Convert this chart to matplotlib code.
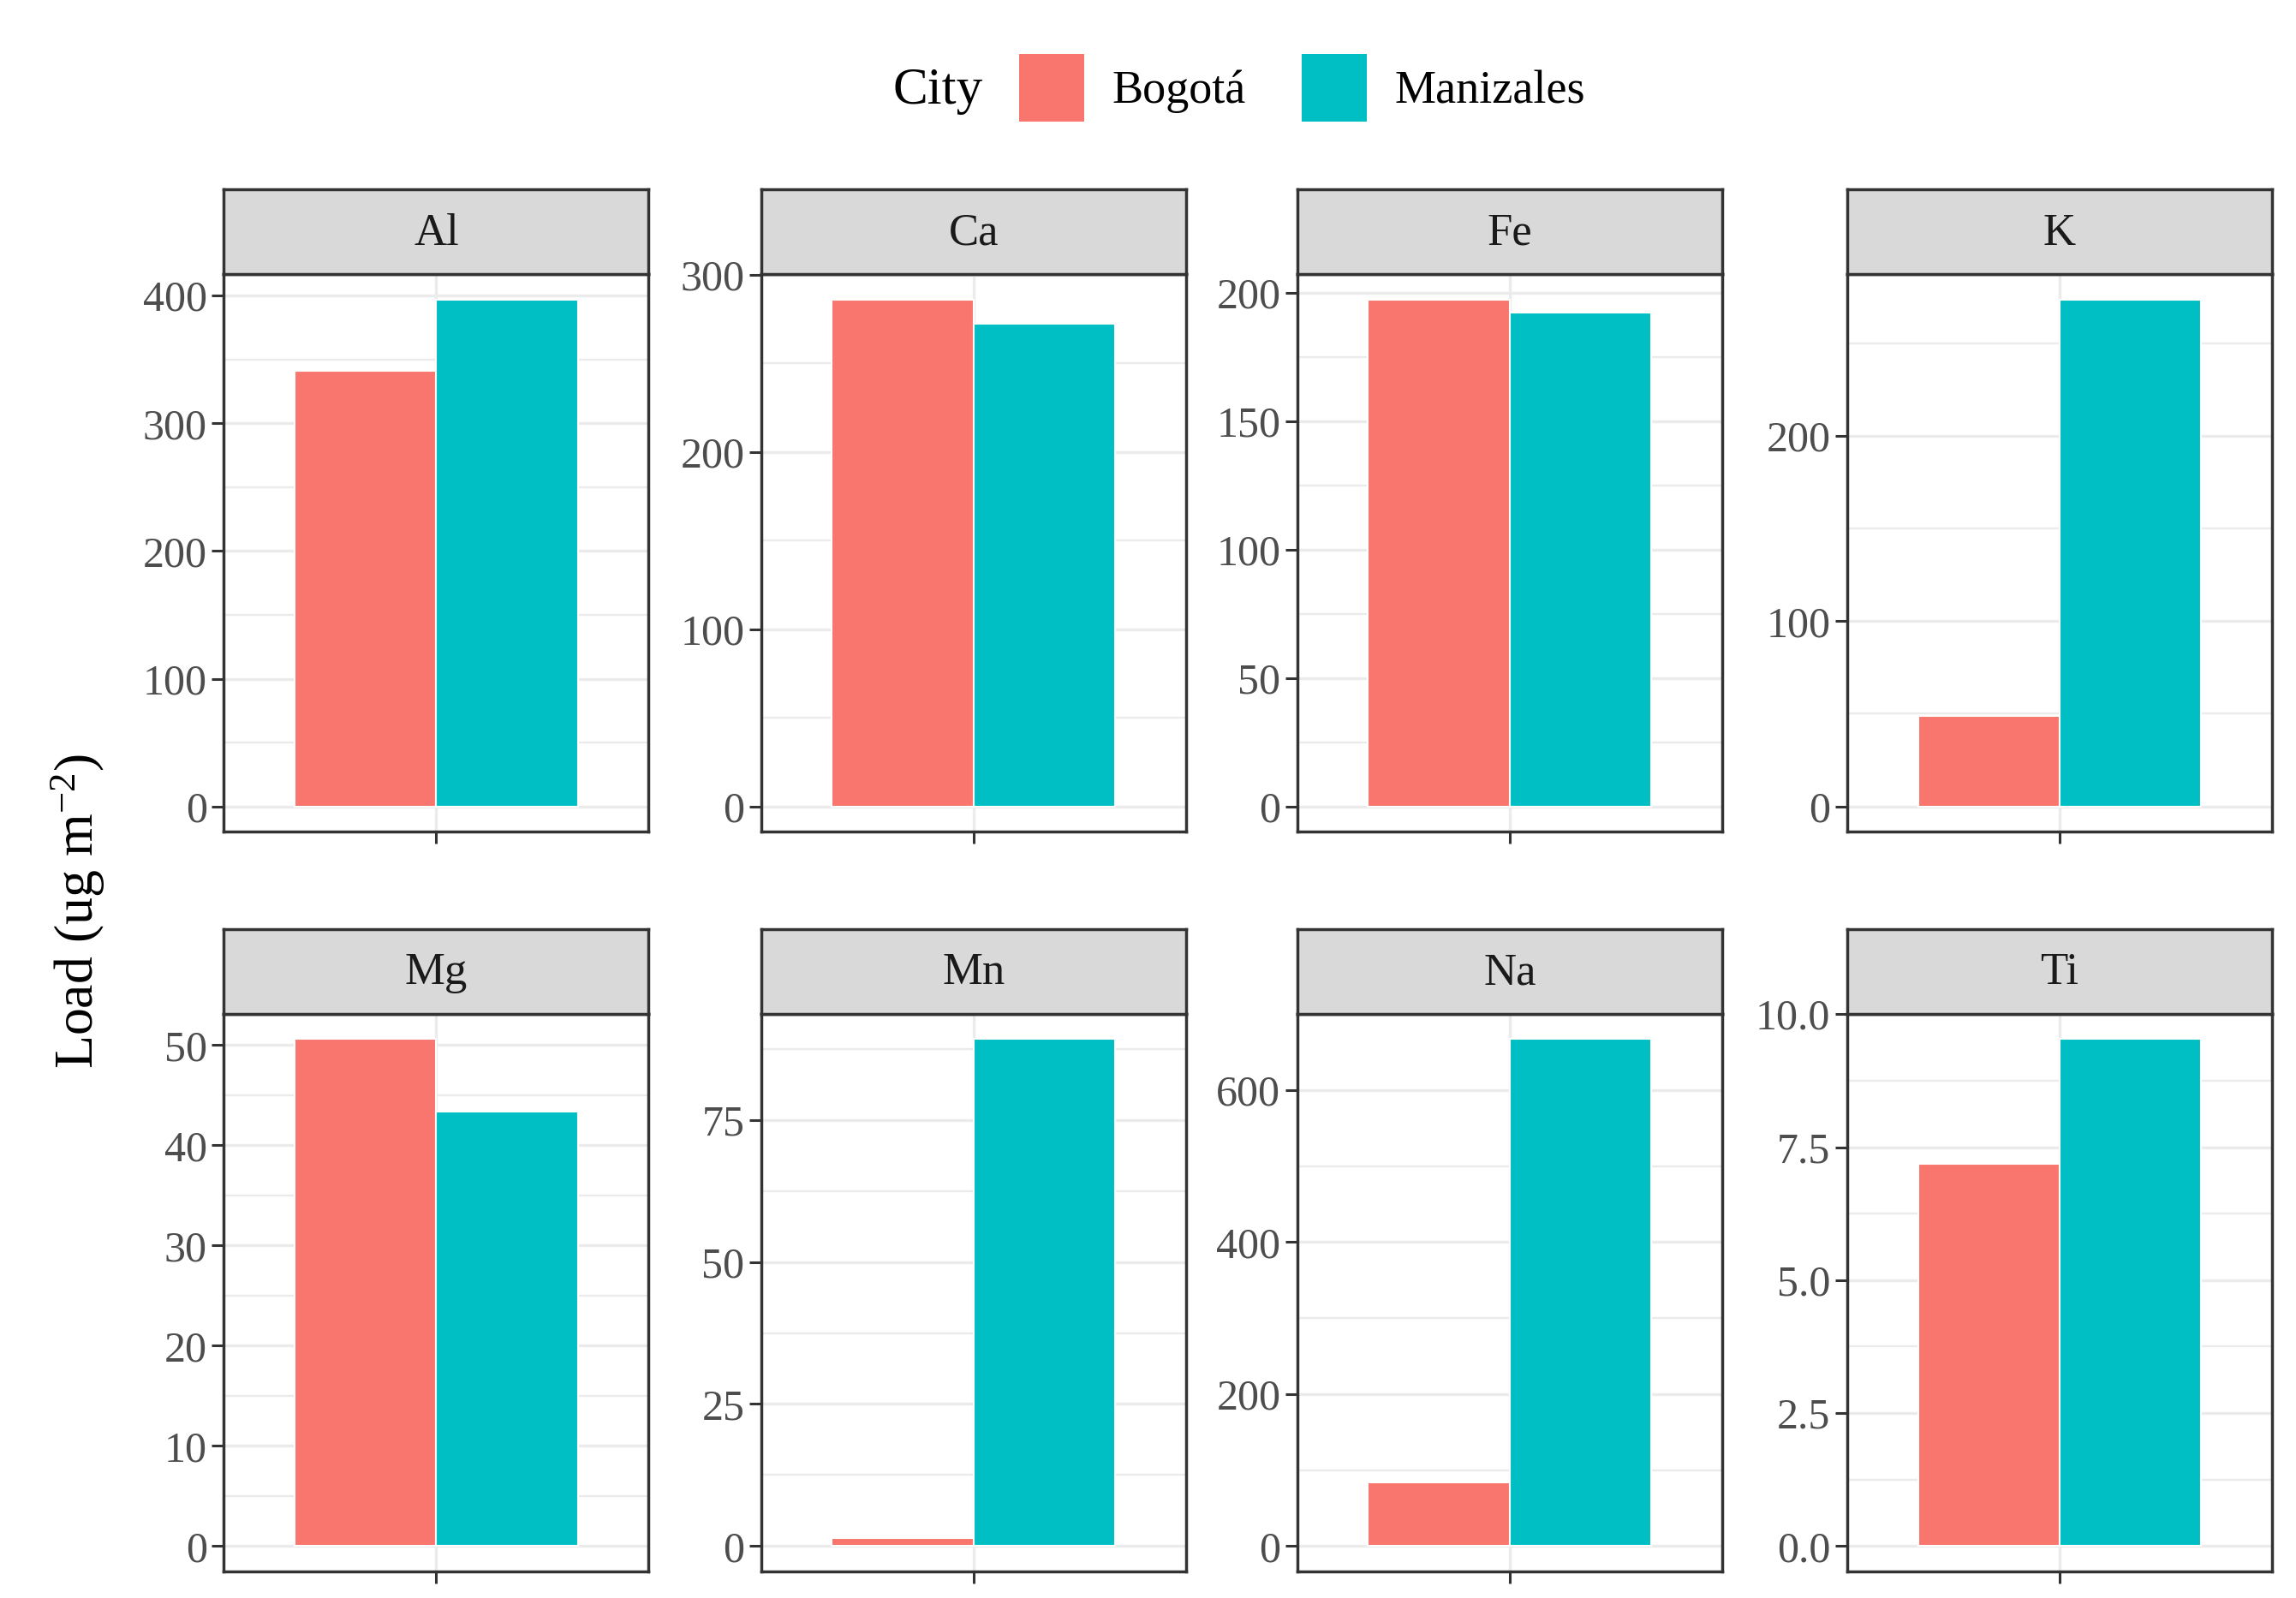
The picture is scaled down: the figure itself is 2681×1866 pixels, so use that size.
import matplotlib
matplotlib.use("Agg")
from matplotlib import pyplot as plt
from matplotlib.ticker import MultipleLocator, FormatStrFormatter
from matplotlib.patches import Patch

plt.rcParams['font.family'] = ['Liberation Serif', 'DejaVu Serif']
plt.rcParams['mathtext.fontset'] = 'custom'
plt.rcParams['mathtext.rm'] = 'Liberation Serif'
plt.rcParams['mathtext.it'] = 'Liberation Serif:italic'

# data (ug m-2)
elements = ['Al', 'Ca', 'Fe', 'K', 'Mg', 'Mn', 'Na', 'Ti']
bogota = [341, 286, 197.3, 48.6, 50.6, 1.4, 84, 7.19]
manizales = [397, 272.3, 192.3, 273.6, 43.4, 89.2, 667, 9.53]
tick_steps = [100, 100, 50, 100, 10, 25, 200, 2.5]
cities = ['Bogotá', 'Manizales']
colors = ['#F8766D', '#00BFC4']

fig = plt.figure(figsize=(26.81, 18.66), dpi=100)

lefts = [0.0975, 0.3315, 0.5650, 0.8045]
width = 0.185
bottoms = [0.4795, 0.0166]
height = 0.349
strip_h = 0.053
border = '#333333'
grid_c = '#EBEBEB'

for i, el in enumerate(elements):
    r, c = divmod(i, 4)
    ax = fig.add_axes([lefts[c], bottoms[r], width, height])
    vals = [bogota[i], manizales[i]]
    m = max(vals)
    for j in range(2):
        ax.bar(-0.2 + 0.4 * j, vals[j], width=0.4, color=colors[j],
               edgecolor='white', linewidth=1.5, zorder=3)
    ax.set_xlim(-0.6, 0.6)
    ax.set_ylim(-0.05 * m, 1.05 * m)
    step = tick_steps[i]
    ax.yaxis.set_major_locator(MultipleLocator(step))
    ax.yaxis.set_minor_locator(MultipleLocator(step / 2))
    if step != int(step):
        ax.yaxis.set_major_formatter(FormatStrFormatter('%.1f'))
    else:
        ax.yaxis.set_major_formatter(FormatStrFormatter('%d'))
    ax.set_xticks([0])
    ax.set_xticklabels([''])
    ax.grid(which='major', color=grid_c, linewidth=2.4, zorder=0)
    ax.grid(which='minor', axis='y', color=grid_c, linewidth=1.7, zorder=0)
    ax.set_axisbelow(True)
    ax.tick_params(axis='both', which='major', length=10, width=2.2,
                   color=border, labelsize=36, labelcolor='#4D4D4D', pad=4)
    ax.tick_params(which='minor', length=0)
    for s in ax.spines.values():
        s.set_color(border)
        s.set_linewidth(2.5)

    # facet strip
    st = fig.add_axes([lefts[c], bottoms[r] + height, width, strip_h])
    st.set_facecolor('#D9D9D9')
    st.set_xticks([])
    st.set_yticks([])
    for s in st.spines.values():
        s.set_color(border)
        s.set_linewidth(2.5)
    st.text(0.5, 0.48, el, ha='center', va='center', fontsize=38,
            color='#1A1A1A', transform=st.transAxes)

fig.text(0.034, 0.43, 'Load (ug m$^{-2}$)', rotation=90, ha='center',
         va='center', fontsize=46)

# legend
handles = [Patch(facecolor=colors[k], edgecolor='none') for k in range(2)]
fig.text(0.389, 0.943, 'City', ha='left', va='center', fontsize=44)
fig.legend(handles, cities, loc='center left', bbox_to_anchor=(0.444, 0.945),
           ncol=2, frameon=False, fontsize=39, handlelength=1.4,
           handleheight=1.85, handletextpad=0.6, columnspacing=1.2,
           borderpad=0, borderaxespad=0)

plt.savefig('out.png', dpi=100)
